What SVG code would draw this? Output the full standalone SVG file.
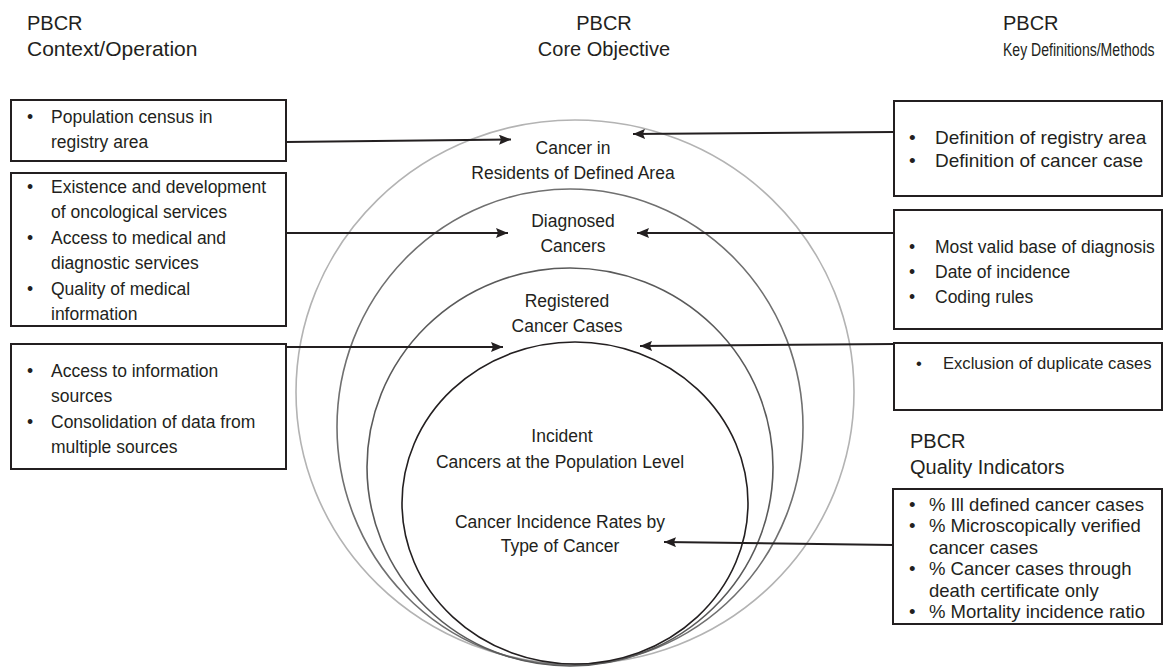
<svg xmlns="http://www.w3.org/2000/svg" width="1165" height="667" viewBox="0 0 1165 667">
<style>
text{font-family:"Liberation Sans",Arial,sans-serif;fill:#231f20}
.hd{font-size:20px}
.t{font-size:17.5px}
.r1{font-size:19px}
.r3{font-size:16.6px}
.q{font-size:18.5px}
.c{font-size:17.5px;text-anchor:middle}
.box{fill:none;stroke:#231f20;stroke-width:2}
.con{fill:none;stroke:#231f20;stroke-width:2;marker-end:url(#arr)}
.ring{fill:none;stroke-width:1.6}
</style>
<defs>
<marker id="arr" viewBox="0 0 12 10" refX="12" refY="5" markerWidth="12" markerHeight="10" markerUnits="userSpaceOnUse" orient="auto">
<path d="M0,0 L12,5 L0,10 L2,5 z" fill="#231f20"/>
</marker>
</defs>
<g id="headers">
<text class="hd" x="27" y="30">PBCR</text>
<text class="hd" x="27" y="56" style="font-size:21px">Context/Operation</text>
<text class="hd" x="604" y="30" text-anchor="middle">PBCR</text>
<text class="hd" x="604" y="56" text-anchor="middle">Core Objective</text>
<text class="hd" x="1003" y="30">PBCR</text>
<text class="hd" transform="translate(1003,56) scale(0.74,1)" style="font-size:19px">Key Definitions/Methods</text>
<text class="hd" x="910" y="448">PBCR</text>
<text class="hd" x="910" y="474">Quality Indicators</text>
</g>
<g id="rings">
<ellipse class="ring" cx="575" cy="392" rx="279" ry="272" stroke="#b3b3b3"/>
<ellipse class="ring" cx="570" cy="427" rx="233" ry="238" stroke="#707070"/>
<ellipse class="ring" cx="570" cy="467" rx="203" ry="199" stroke="#5a5a5a"/>
<ellipse class="ring" cx="575" cy="503" rx="173" ry="161" stroke="#231f20" stroke-width="2"/>
</g>
<g id="core-labels">
<text class="c" x="573" y="154">Cancer in</text>
<text class="c" x="573" y="179">Residents of Defined Area</text>
<text class="c" x="573" y="227">Diagnosed</text>
<text class="c" x="573" y="252">Cancers</text>
<text class="c" x="567" y="307">Registered</text>
<text class="c" x="567" y="332">Cancer Cases</text>
<text class="c" x="562" y="442">Incident</text>
<text class="c" x="560" y="468">Cancers at the Population Level</text>
<text class="c" x="560" y="528">Cancer Incidence Rates by</text>
<text class="c" x="560" y="552">Type of Cancer</text>
</g>
<g id="left-box-1">
<rect class="box" x="11" y="100" width="275" height="61"/>
<text class="t" x="27" y="123">•</text>
<text class="t" x="51" y="123">Population census in</text>
<text class="t" x="51" y="148">registry area</text>
</g>
<g id="left-box-2">
<rect class="box" x="11" y="173" width="275" height="153"/>
<text class="t" x="27" y="193">•</text>
<text class="t" x="51" y="193">Existence and development</text>
<text class="t" x="51" y="218.4">of oncological services</text>
<text class="t" x="27" y="243.8">•</text>
<text class="t" x="51" y="243.8">Access to medical and</text>
<text class="t" x="51" y="269.2">diagnostic services</text>
<text class="t" x="27" y="294.6">•</text>
<text class="t" x="51" y="294.6">Quality of medical</text>
<text class="t" x="51" y="320">information</text>
</g>
<g id="left-box-3">
<rect class="box" x="11" y="344" width="275" height="125"/>
<text class="t" x="27" y="377">•</text>
<text class="t" x="51" y="377">Access to information</text>
<text class="t" x="51" y="402.3">sources</text>
<text class="t" x="27" y="427.6">•</text>
<text class="t" x="51" y="427.6">Consolidation of data from</text>
<text class="t" x="51" y="453">multiple sources</text>
</g>
<g id="right-box-1">
<rect class="box" x="894" y="101" width="268" height="95"/>
<text class="r1" x="909" y="144">•</text>
<text class="r1" x="935" y="144">Definition of registry area</text>
<text class="r1" x="909" y="167">•</text>
<text class="r1" x="935" y="167">Definition of cancer case</text>
</g>
<g id="right-box-2">
<rect class="box" x="894" y="210" width="268" height="119"/>
<text class="t" x="909" y="253">•</text>
<text class="t" x="935" y="253">Most valid base of diagnosis</text>
<text class="t" x="909" y="278">•</text>
<text class="t" x="935" y="278">Date of incidence</text>
<text class="t" x="909" y="303">•</text>
<text class="t" x="935" y="303">Coding rules</text>
</g>
<g id="right-box-3">
<rect class="box" x="894" y="343" width="268" height="67"/>
<text class="r3" x="916" y="369">•</text>
<text class="r3" x="943" y="369">Exclusion of duplicate cases</text>
</g>
<g id="quality-box">
<rect class="box" x="893" y="489" width="269" height="135"/>
<text class="q" x="909" y="511">•</text>
<text class="q" x="929" y="511">% Ill defined cancer cases</text>
<text class="q" x="909" y="532.4">•</text>
<text class="q" x="929" y="532.4">% Microscopically verified</text>
<text class="q" x="929" y="553.8">cancer cases</text>
<text class="q" x="909" y="575.2">•</text>
<text class="q" x="929" y="575.2">% Cancer cases through</text>
<text class="q" x="929" y="596.6">death certificate only</text>
<text class="q" x="909" y="618">•</text>
<text class="q" x="929" y="618">% Mortality incidence ratio</text>
</g>
<g id="connectors">
<line class="con" x1="286" y1="142" x2="511" y2="139.5"/>
<line class="con" x1="286" y1="233" x2="508" y2="233"/>
<line class="con" x1="286" y1="347" x2="503" y2="347"/>
<line class="con" x1="894" y1="132" x2="633" y2="134"/>
<line class="con" x1="894" y1="233" x2="637" y2="233"/>
<line class="con" x1="894" y1="344" x2="640" y2="346"/>
<line class="con" x1="893" y1="545" x2="664" y2="542"/>
</g>
</svg>
